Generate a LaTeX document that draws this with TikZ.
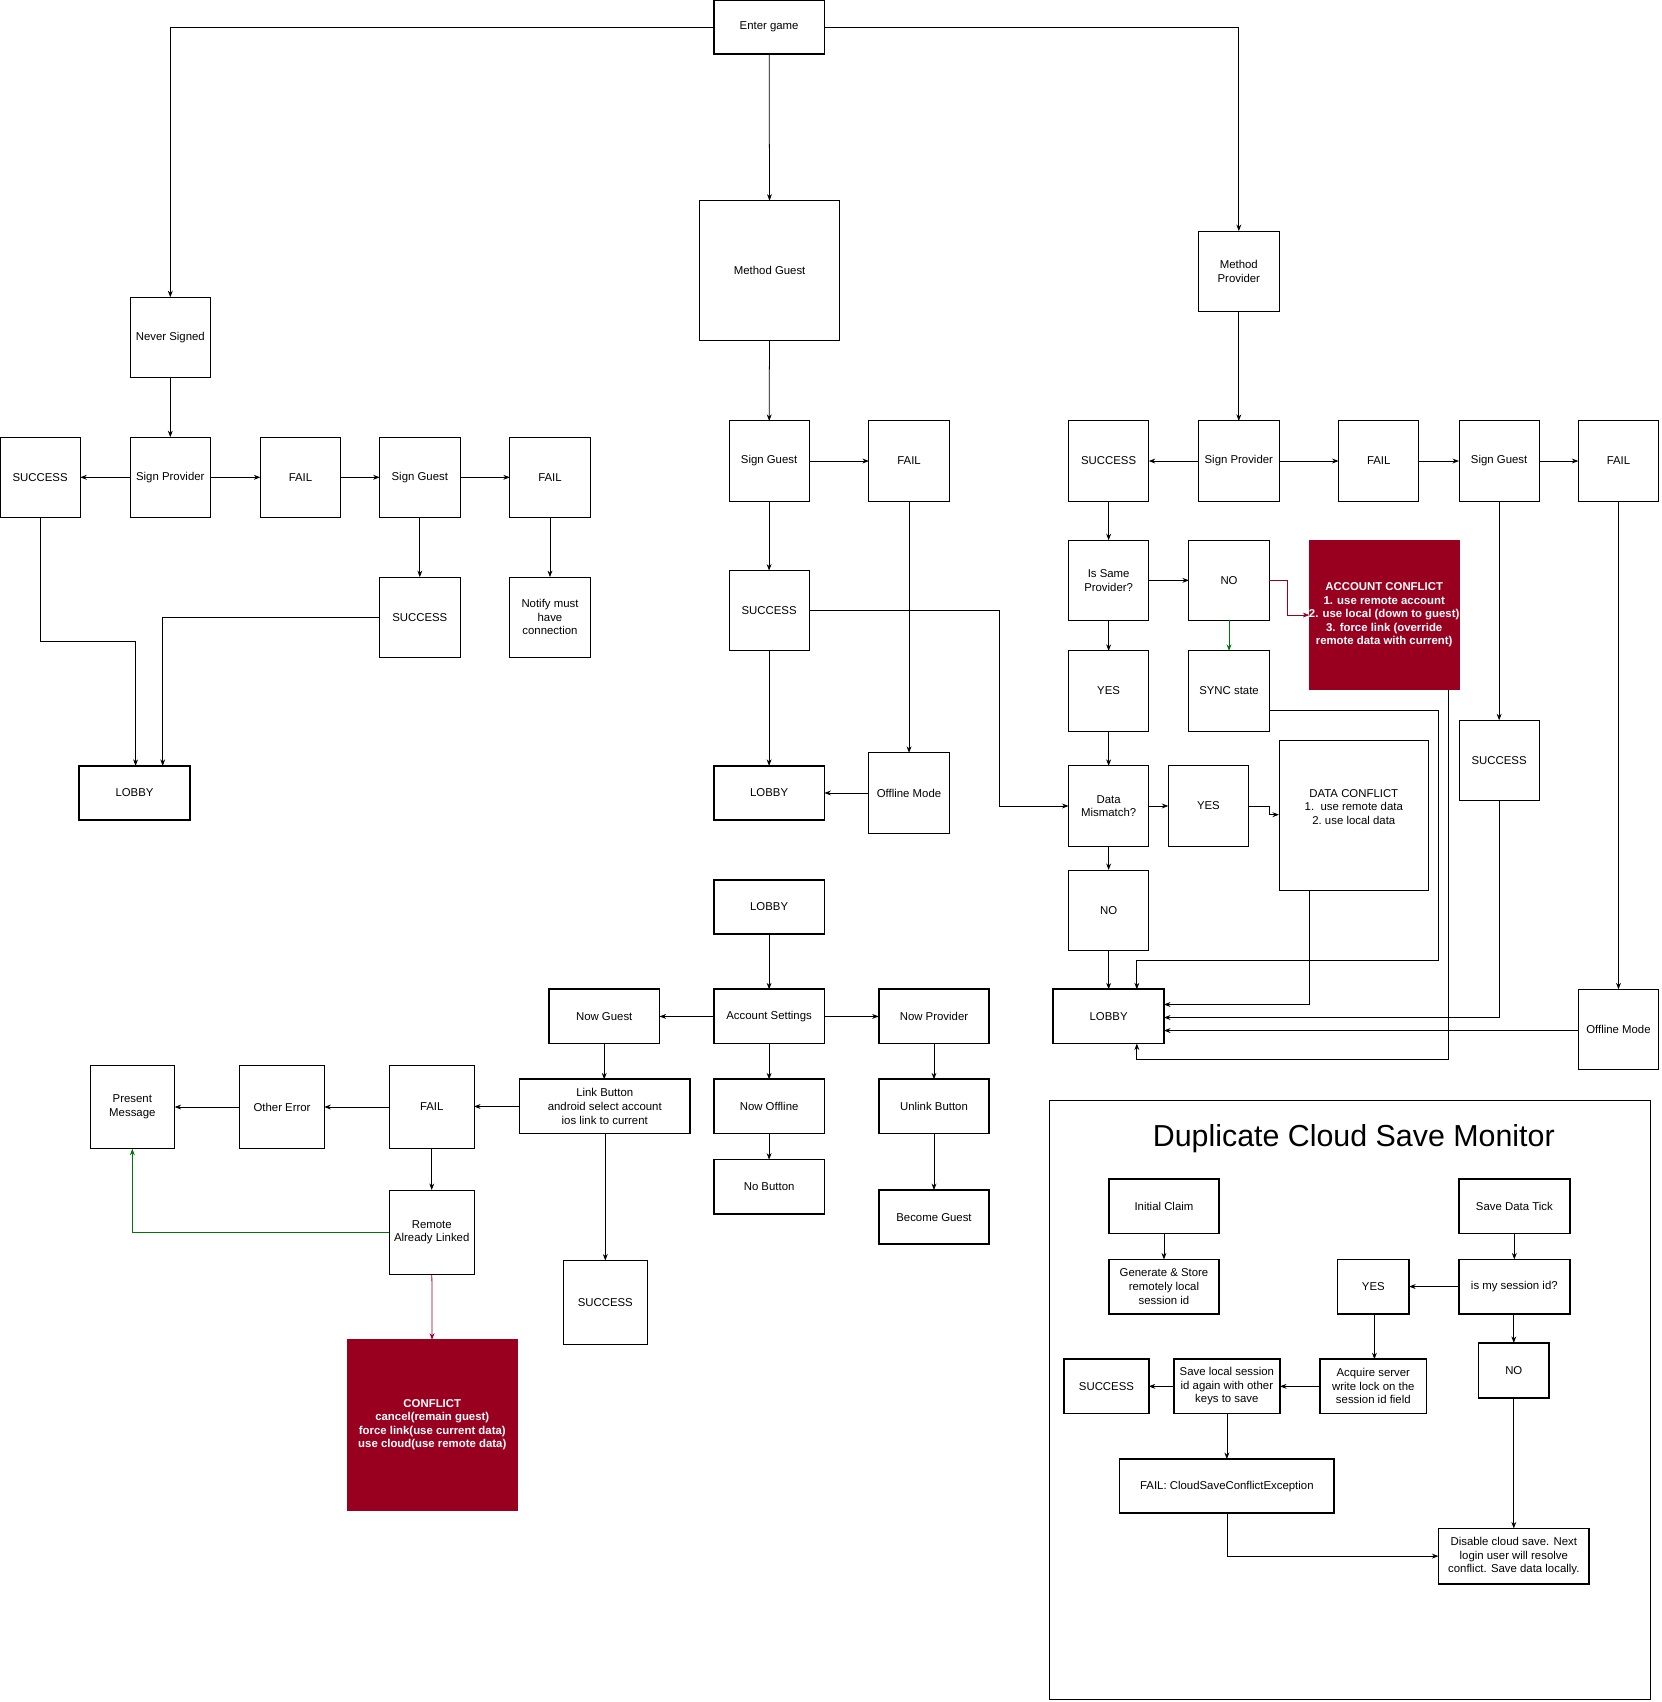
\documentclass[tikz,border=0pt]{standalone}
\usepackage{fontspec}
\setmainfont{Liberation Sans}
\usetikzlibrary{arrows.meta}
\definecolor{cred}{HTML}{99001F}
\definecolor{cgreen}{HTML}{00750A}
\tikzset{
 box/.style={draw,line width=0.8pt,inner sep=0pt,outer sep=0pt,align=center,font=\fontsize{10.5}{12.5}\selectfont},
 tk/.style={line width=1.6pt},
 red box/.style={fill=cred,draw=cred,text=white,font=\bfseries\fontsize{10.5}{12.5}\selectfont},
 ar/.style={-{Stealth[length=6pt,width=4.5pt]},line width=0.7pt},
}
\newcommand{\B}[7][]{\node[box,#1,minimum width={(#5-#3)*1pt},minimum height={(#6-#4)*1pt}] (#2) at ({(#3+#5)/2},{(#4+#6)/2}) {#7};}
\begin{document}
\begin{tikzpicture}[x=1pt,y=-1pt]
\useasboundingbox (0,0) rectangle (1532,1569);
% top
\B[tk]{enter}{658}{0}{760}{50}{Enter game}
\B{mguest}{645}{185}{774}{314}{Method Guest}
\B{mprov}{1105}{213}{1179}{287}{Method\\Provider}
\B{never}{120}{274}{194}{348}{Never Signed}
% left
\B{lsucc}{0}{403}{74}{477}{SUCCESS}
\B{lsprov}{120}{403}{194}{477}{Sign Provider}
\B{lfail}{240}{403}{314}{477}{FAIL}
\B{lsguest}{350}{403}{424}{477}{Sign Guest}
\B{lfail2}{470}{403}{544}{477}{FAIL}
\B{lsucc2}{350}{532}{424}{606}{SUCCESS}
\B{notify}{470}{532}{544}{606}{Notify must\\have\\connection}
\B[tk]{llobby}{73}{706}{175}{756}{LOBBY}
% middle
\B{msguest}{672}{388}{746}{462}{Sign Guest}
\B{mfail}{801}{388}{875}{462}{FAIL}
\B{msucc}{672}{526}{746}{600}{SUCCESS}
\B[tk]{mlobby}{658}{706}{760}{756}{LOBBY}
\B{moff}{801}{694}{875}{768}{Offline Mode}
% right
\B{rsucc}{985}{388}{1059}{462}{SUCCESS}
\B{rsprov}{1105}{388}{1179}{462}{Sign Provider}
\B{rfail}{1234}{388}{1308}{462}{FAIL}
\B{rsguest}{1345}{388}{1419}{462}{Sign Guest}
\B{rfail2}{1455}{388}{1529}{462}{FAIL}
\B{same}{985}{498}{1059}{572}{Is Same\\Provider?}
\B{rno}{1096}{498}{1170}{572}{NO}
\B[red box]{acc}{1207}{498}{1345}{636}{ACCOUNT CONFLICT\\1. use remote account\\2. use local (down to guest)\\3. force link (override\\remote data with current)}
\B{ryes}{985}{600}{1059}{674}{YES}
\B{sync}{1096}{600}{1170}{674}{SYNC state}
\B{rsucc2}{1345}{664}{1419}{738}{SUCCESS}
\B{dm}{985}{706}{1059}{780}{Data\\Mismatch?}
\B{ryes2}{1077}{706}{1151}{780}{YES}
\node[box,minimum width=138pt,minimum height=138pt,anchor=north west] (dc) at (1179,683) {};
\node[align=center,anchor=north,font=\fontsize{10.5}{12.5}\selectfont] at (1248,724) {DATA CONFLICT\\1.\ \ use remote data\\2.\ use local data};
\B{rno2}{985}{802}{1059}{876}{NO}
\B[tk]{rlobby}{971}{912}{1073}{962}{LOBBY}
\B{roff}{1455}{912}{1529}{986}{Offline Mode}
% lower middle
\B[tk]{blobby}{658}{811}{760}{861}{LOBBY}
\B[tk]{acs}{658}{912}{760}{962}{Account Settings}
\B[tk]{nguest}{506}{912}{608}{962}{Now Guest}
\B[tk]{nprov}{810}{912}{912}{962}{Now Provider}
\B[tk]{link}{479}{995}{636}{1045}{Link Button\\android select account\\ios link to current}
\B[tk]{noff}{658}{995}{760}{1045}{Now Offline}
\B[tk]{unlink}{810}{995}{912}{1045}{Unlink Button}
\B[tk]{nobtn}{658}{1069}{760}{1119}{No Button}
\B[tk]{become}{810}{1097}{912}{1147}{Become Guest}
\B{bsucc}{519}{1162}{597}{1239}{SUCCESS}
\B{bfail}{359}{982}{437}{1059}{FAIL}
\B{other}{221}{982}{299}{1059}{Other Error}
\B{present}{83}{982}{161}{1059}{Present\\Message}
\B{remote}{359}{1097}{437}{1175}{Remote\\Already Linked}
\B[red box]{conf}{320}{1235}{477}{1392}{CONFLICT\\cancel(remain guest)\\force link(use current data)\\use cloud(use remote data)}
% monitor
\draw[line width=0.8pt] (967,1014) rectangle (1521,1567);
\node[font=\fontsize{28}{32}\selectfont] at (1248,1050) {Duplicate Cloud Save Monitor};
\B[tk]{init}{1022}{1087}{1124}{1137}{Initial Claim}
\B[tk]{tick}{1345}{1087}{1447}{1137}{Save Data Tick}
\B[tk]{gen}{1022}{1161}{1124}{1211}{Generate \& Store\\remotely local\\session id}
\B[tk]{myes}{1233}{1161}{1299}{1211}{YES}
\B[tk]{ismy}{1345}{1161}{1447}{1211}{is my session id?}
\B[tk]{msucc2}{981}{1253}{1059}{1303}{SUCCESS}
\B[tk]{saveloc}{1082}{1253}{1180}{1303}{Save local session\\id again with other\\keys to save}
\B[tk]{acq}{1217}{1253}{1315}{1303}{Acquire server\\write lock on the\\session id field}
\B[tk]{mno}{1363}{1238}{1428}{1289}{NO}
\B[tk]{cfail}{1032}{1345}{1230}{1395}{FAIL: CloudSaveConflictException}
\B[tk]{disable}{1326}{1409}{1465}{1460}{Disable cloud save. Next\\login user will resolve\\conflict. Save data locally.}
% edges top
\draw[ar] (enter.west) -| (never.north);
\draw[ar] (enter) -- (mguest);
\draw[ar] (enter.east) -| (mprov.north);
% left
\draw[ar] (never) -- (lsprov);
\draw[ar] (lsprov) -- (lsucc);
\draw[ar] (lsprov) -- (lfail);
\draw[ar] (lfail) -- (lsguest);
\draw[ar] (lsguest) -- (lfail2);
\draw[ar] (lsguest) -- (lsucc2);
\draw[ar] (lfail2) -- (notify);
\draw[ar] (lsucc.south) -- (37,591) -- (125,591) -- (125,706);
\draw[ar] (lsucc2.west) -- (150,569) -- (150,706);
% middle
\draw[ar] (mguest) -- (msguest);
\draw[ar] (msguest) -- (mfail);
\draw[ar] (msguest) -- (msucc);
\draw[ar] (msucc) -- (mlobby);
\draw[ar] (mfail) -- (moff);
\draw[ar] (moff) -- (mlobby);
\draw[ar] (msucc.east) -- (921,563) -- (921,743) -- (dm.west);
% right
\draw[ar] (mprov) -- (rsprov);
\draw[ar] (rsprov) -- (rsucc);
\draw[ar] (rsprov) -- (rfail);
\draw[ar] (rfail) -- (rsguest);
\draw[ar] (rsguest) -- (rfail2);
\draw[ar] (rsguest) -- (rsucc2);
\draw[ar] (rsucc) -- (same);
\draw[ar] (same) -- (rno);
\draw[ar] (same) -- (ryes);
\draw[ar,cgreen] (rno) -- (sync);
\draw[ar,cred] (rno.east) -- (1187,535) -- (1187,567) -- (1207,567);
\draw[ar] (ryes) -- (dm);
\draw[ar] (dm) -- (ryes2);
\draw[ar] (ryes2.east) -- (1170,743) -- (1170,751) -- (1179,751);
\draw[ar] (dm) -- (rno2);
\draw[ar] (rno2) -- (rlobby);
\draw[ar] (1170,655) -- (1326,655) -- (1326,885) -- (1048,885) -- (1048,912);
\draw[ar] (1207,821) -- (1207,926) -- (1073,926);
\draw[ar] (rsucc2.south) -- (1382,938) -- (1073,938);
\draw[ar] (roff.west |- 0,950) -- (1073,950);
\draw[ar] (1335,636) -- (1335,977) -- (1048,977) -- (1048,962);
\draw[ar] (rfail2) -- (roff);
% lower
\draw[ar] (blobby) -- (acs);
\draw[ar] (acs) -- (nguest);
\draw[ar] (acs) -- (nprov);
\draw[ar] (acs) -- (noff);
\draw[ar] (nguest) -- (nguest |- link.north);
\draw[ar] (noff) -- (nobtn);
\draw[ar] (nprov) -- (unlink);
\draw[ar] (unlink) -- (become);
\draw[ar] (link.west) -- (bfail.east |- link.west);
\draw[ar] (link.south -| bsucc) -- (bsucc);
\draw[ar] (bfail) -- (other);
\draw[ar] (other) -- (present);
\draw[ar] (bfail) -- (remote);
\draw[ar,cgreen] (remote.west) -| (present.south);
\draw[ar,cred] (remote) -- (conf);
% monitor
\draw[ar] (init) -- (gen);
\draw[ar] (tick) -- (ismy);
\draw[ar] (ismy) -- (myes);
\draw[ar] (ismy.south -| mno) -- (mno);
\draw[ar] (myes.south -| 1267,0) -- (1267,1253);
\draw[ar] (acq) -- (saveloc);
\draw[ar] (saveloc) -- (msucc2);
\draw[ar] (saveloc.south) -- (saveloc.south |- cfail.north);
\draw[ar] (cfail.south) |- (disable.west);
\draw[ar] (mno.south) -- (mno.south |- disable.north);
\end{tikzpicture}
\end{document}
